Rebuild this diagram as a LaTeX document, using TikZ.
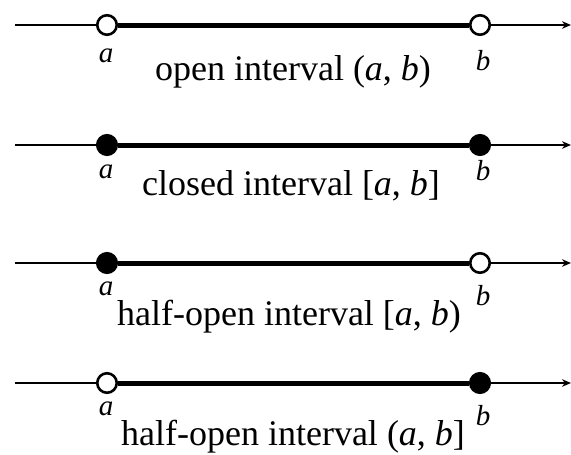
\documentclass[tikz,border=0pt]{standalone}
\usepackage{fontspec}
\setmainfont{Liberation Serif}
\usetikzlibrary{arrows.meta}
\begin{document}
\begin{tikzpicture}[x=1pt,y=-1pt,
  thinline/.style={line width=1.8pt},
  thickline/.style={line width=5pt},
  endpt/.style={circle,draw,line width=2.6pt,minimum size=19.5pt,inner sep=0pt},
  openpt/.style={endpt,fill=white},
  closedpt/.style={endpt,fill=black},
  lbl/.style={font=\fontsize{29}{31}\selectfont,inner sep=0pt,anchor=base},
  captxt/.style={font=\fontsize{36}{38}\selectfont,inner sep=0pt,anchor=base},
  axisarrow/.style={thinline,-{Stealth[length=9pt,width=7.5pt]}}]
\useasboundingbox (0,0) rectangle (571,455);
% row 1
\coordinate (s1) at (15,25); \coordinate (e1) at (571,25);
\node[openpt] (a1) at (107,25) {};
\node[openpt] (b1) at (480,25) {};
\draw[thinline] (s1) -- (a1);
\draw[thickline] (a1) -- (b1);
\draw[axisarrow] (b1) -- (e1);
\node[lbl] (la1) at (106,62) {\textit{a}};
\node[lbl] (lb1) at (483,70) {\textit{b}};
\node[captxt] (c1) at (293,80) {open interval (\textit{a}, \textit{b})};
% row 2
\coordinate (s2) at (15,145); \coordinate (e2) at (571,145);
\node[closedpt] (a2) at (107,145) {};
\node[closedpt] (b2) at (480,145) {};
\draw[thinline] (s2) -- (a2);
\draw[thickline] (a2) -- (b2);
\draw[axisarrow] (b2) -- (e2);
\node[lbl] (la2) at (106,178) {\textit{a}};
\node[lbl] (lb2) at (483,180) {\textit{b}};
\node[captxt] (c2) at (291,195) {closed interval [\textit{a}, \textit{b}]};
% row 3
\coordinate (s3) at (15,263); \coordinate (e3) at (571,263);
\node[closedpt] (a3) at (107,263) {};
\node[openpt] (b3) at (480,263) {};
\draw[thinline] (s3) -- (a3);
\draw[thickline] (a3) -- (b3);
\draw[axisarrow] (b3) -- (e3);
\node[lbl] (la3) at (106,295) {\textit{a}};
\node[lbl] (lb3) at (483,305) {\textit{b}};
\node[captxt] (c3) at (289,325) {half-open interval [\textit{a}, \textit{b})};
% row 4
\coordinate (s4) at (15,383); \coordinate (e4) at (571,383);
\node[openpt] (a4) at (107,383) {};
\node[closedpt] (b4) at (480,383) {};
\draw[thinline] (s4) -- (a4);
\draw[thickline] (a4) -- (b4);
\draw[axisarrow] (b4) -- (e4);
\node[lbl] (la4) at (106,415) {\textit{a}};
\node[lbl] (lb4) at (483,425) {\textit{b}};
\node[captxt] (c4) at (293,445) {half-open interval (\textit{a}, \textit{b}]};
\end{tikzpicture}
\end{document}
